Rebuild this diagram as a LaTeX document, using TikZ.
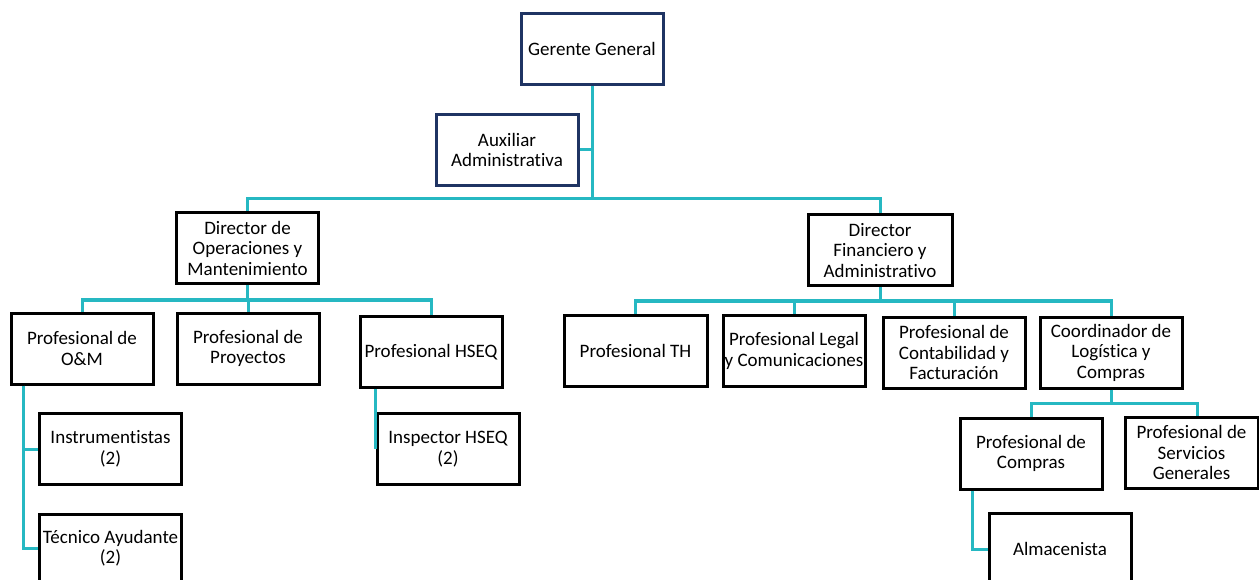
\documentclass[tikz,border=0pt]{standalone}
\usepackage{fontspec}
\setmainfont{Carlito}[Ligatures=NoCommon]
\usepackage{tikz}
\usetikzlibrary{calc}
\definecolor{enlaceturq}{RGB}{38,184,194}
\definecolor{marino}{RGB}{31,52,99}
\tikzset{
	cargo/.style={draw=black, line width=3pt, fill=white, align=center, inner sep=0pt,
		minimum width=142pt, minimum height=71pt, font=\fontsize{19}{20.5}\selectfont},
	jefe/.style={cargo, draw=marino},
	enlace/.style={draw=enlaceturq, line width=3pt}
}

\begin{document}
\begin{tikzpicture}[x=1pt,y=-1pt]
			%%%%% START %%%%%
			
			\useasboundingbox (0,0) rectangle (1259,580);
			\clip (0,0) rectangle (1259,580);
			
			% cargos
			\node[jefe] (gg) at (592,49) {Gerente General};
			\node[jefe] (aux) at (507,150) {Auxiliar\\Administrativa};
			\node[cargo] (dom) at (247.5,248) {Director de\\Operaciones y\\Mantenimiento};
			\node[cargo, minimum width=144pt] (dfa) at (880,250.5) {Director\\Financiero y\\Administrativo};
			
			\node[cargo] (pom) at (82,348.5) {Profesional de\\O\&M};
			\node[cargo] (ppr) at (248,348.5) {Profesional de\\Proyectos};
			\node[cargo] (hseq) at (431,352) {Profesional HSEQ};
			\node[cargo] (ins) at (110.5,449) {Instrumentistas\\(2)};
			\node[cargo, minimum height=68pt] (tec) at (110.5,548) {Técnico Ayudante\\(2)};
			\node[cargo] (insp) at (448,449) {Inspector HSEQ\\(2)};
			
			\node[cargo, minimum width=143pt] (pth) at (635.5,351) {Profesional TH};
			\node[cargo] (leg) at (794,351) {Profesional Legal\\y Comunicaciones};
			\node[cargo] (cont) at (954,352.5) {Profesional de\\Contabilidad y\\Facturación};
			\node[cargo] (coord) at (1111,352.5) {Coordinador de\\Logística y\\Compras};
			\node[cargo] (pcom) at (1031,453.5) {Profesional de\\Compras};
			\node[cargo, minimum width=133pt] (serv) at (1191.5,452.5) {Profesional de\\Servicios\\Generales};
			\node[cargo] (alm) at (1060,549) {Almacenista};
			
			% puntos de reparto
			\coordinate (b1) at (592,199);
			\coordinate (b2) at (247.5,300);
			\coordinate (b3) at (880,301);
			\coordinate (b4) at (1111,403);
			\coordinate (t1) at ([xshift=14pt]pom.south west);
			\coordinate (t2) at ([xshift=14pt]pcom.south west);
			
			% conectores
			\draw[enlace] (gg.south) -- (b1);
			\draw[enlace] (aux.east) -- (aux.east -| gg.south);
			\draw[enlace] (dom.north) |- (b1) -| (dfa.north);
			
			\draw[enlace] (dom.south) -- (b2);
			\draw[enlace] (pom.north) |- (b2) -| (hseq.north);
			\draw[enlace] (ppr.north) -- (ppr.north |- b2);
			\draw[enlace] (t1) |- (ins.west);
			\draw[enlace] (t1) |- (tec.west);
			\draw[enlace] (hseq.south -| insp.west) |- (insp.west);
			
			\draw[enlace] (dfa.south) -- (b3);
			\draw[enlace] (pth.north) |- (b3) -| (coord.north);
			\draw[enlace] (leg.north) -- (leg.north |- b3);
			\draw[enlace] (cont.north) -- (cont.north |- b3);
			
			\draw[enlace] (coord.south) -- (b4);
			\draw[enlace] (pcom.north) |- (b4) -| ($(serv.north)+(5.5,0)$);
			\draw[enlace] (t2) |- (alm.west);
			
			%%%%% END %%%%%
		\end{tikzpicture}
\end{document}
